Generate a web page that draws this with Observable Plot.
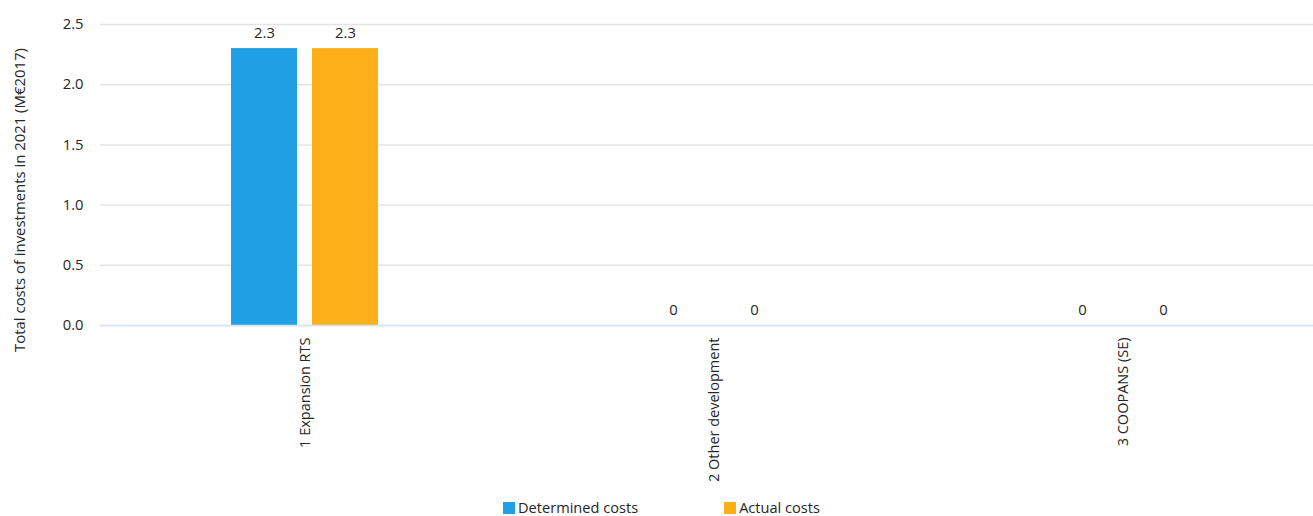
<!DOCTYPE html>
<html>
<head>
<meta charset="utf-8">
<script src="https://cdn.jsdelivr.net/npm/d3@7"></script>
<script src="https://cdn.jsdelivr.net/npm/@observablehq/plot@0.6"></script>
<style>
  html, body { margin: 0; padding: 0; background: #fff; }
  body { width: 1313px; height: 516px; overflow: hidden; font-family: "Open Sans", sans-serif; position: relative; }
  #chart { width: 1313px; height: 490px; overflow: hidden; }
  #chart svg { max-width: none !important; }
  #ylabel { position: absolute; left: 19px; top: 200px; transform: translate(-50%, -50%) rotate(-90deg); white-space: nowrap; font-size: 14.9px; color: #262626; }
  #legend { display: flex; justify-content: center; gap: 86px; font-size: 14.6px; color: #262626; margin-top: 7px; margin-left: 10px; height: 20px; align-items: center; }
  #legend span.sw { display: inline-block; width: 12px; height: 12px; margin-right: 3px; vertical-align: -1px; }
</style>
</head>
<body>
<div id="chart"></div>
<div id="ylabel">Total costs of investments in 2021 (M€2017)</div>
<div id="legend"></div>
<script>
const categories = ["1 Expansion RTS", "2 Other development", "3 COOPANS (SE)"];
const series = ["Determined costs", "Actual costs"];
const determinedCosts = [2.3, 0, 0];
const actualCosts = [2.3, 0, 0];
const colors = ["#22a0e6", "#fcaf17"];
const yTicks = [0, 0.5, 1.0, 1.5, 2.0, 2.5];

const data = [];
categories.forEach((c, i) => {
  data.push({category: c, series: series[0], value: determinedCosts[i]});
  data.push({category: c, series: series[1], value: actualCosts[i]});
});

const fmt = v => v === 0 ? "0" : d3.format(".1f")(v);

const chart = Plot.plot({
  width: 1327,
  height: 490,
  marginLeft: 100,
  marginRight: 0,
  marginTop: 24,
  marginBottom: 165,
  style: {fontFamily: "Open Sans, sans-serif", fontSize: "14px", color: "#262626", background: "white", maxWidth: "none"},
  fx: {domain: categories, padding: 0, label: null},
  x: {domain: series, paddingInner: 0.185, paddingOuter: 1.617, axis: null},
  y: {domain: [0, 2.5], label: null},
  color: {domain: series, range: colors},
  marks: [
    Plot.gridY(yTicks, {stroke: "#e4e4e4", strokeOpacity: 1, strokeWidth: 1.5}),
    Plot.axisY({ticks: yTicks, tickFormat: d3.format(".1f"), tickSize: 0, tickPadding: 17, label: null, fontSize: 14.8}),
    Plot.axisFx({anchor: "bottom", tickRotate: -90, tickSize: 0, tickPadding: 12, label: null, fontSize: 14.5}),
    Plot.barY(data, {fx: "category", x: "series", y: "value", fill: "series"}),
    Plot.ruleY([0], {stroke: "#d4e3f7", strokeWidth: 1.5}),
    Plot.text(data, {fx: "category", x: "series", y: "value", text: d => fmt(d.value), lineAnchor: "bottom", dy: -11, fill: "#262626", fontSize: 14.8})
  ]
});
document.getElementById("chart").appendChild(chart);

const legend = document.getElementById("legend");
series.forEach((s, i) => {
  const item = document.createElement("div");
  item.innerHTML = `<span class="sw" style="background:${colors[i]}"></span>${s}`;
  legend.appendChild(item);
});
</script>
</body>
</html>
